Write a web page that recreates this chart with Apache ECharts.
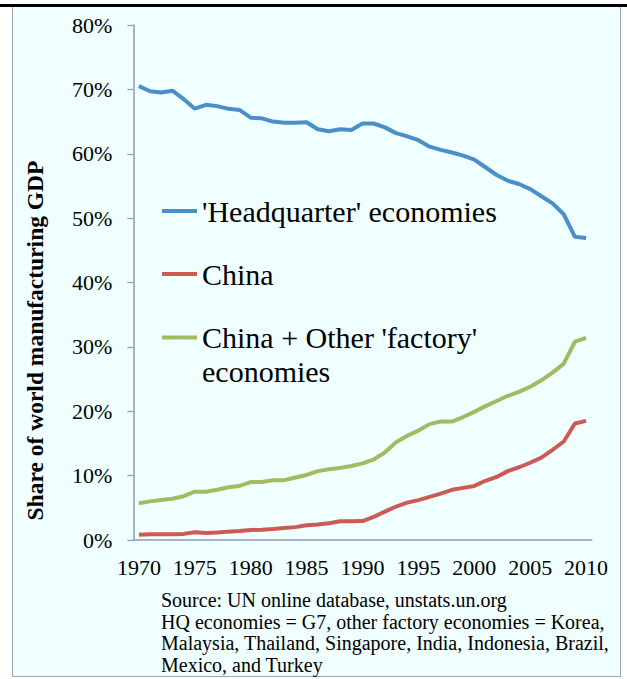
<!DOCTYPE html>
<html>
<head>
<meta charset="utf-8">
<title>Share of world manufacturing GDP</title>
<script src="https://cdn.jsdelivr.net/npm/echarts@6/dist/echarts.min.js"></script>
<style>
  html, body { margin: 0; padding: 0; background: #ffffff; }
  .topbar { position: absolute; left: 0; top: 4px; width: 627px; height: 3px; background: #000; }
  .frame {
    position: absolute; left: 12px; top: 7px; width: 607px; height: 669px;
    background: #f0ffff;
    border-left: 1.5px solid #9aa3b8; border-right: 1.5px solid #9aa3b8; border-bottom: 1.5px solid #9aa3b8;
  }
  #main { position: absolute; left: 0; top: 0; width: 627px; height: 679px; }
</style>
</head>
<body>
<div class="topbar"></div>
<div class="frame"></div>
<div id="main"></div>
<script>
// years on the x axis
const years = ['1970', '1971', '1972', '1973', '1974', '1975', '1976', '1977', '1978', '1979',
  '1980', '1981', '1982', '1983', '1984', '1985', '1986', '1987', '1988', '1989',
  '1990', '1991', '1992', '1993', '1994', '1995', '1996', '1997', '1998', '1999',
  '2000', '2001', '2002', '2003', '2004', '2005', '2006', '2007', '2008', '2009', '2010']

// share of world manufacturing GDP, %
const hqEconomies = [70.5, 69.7, 69.5, 69.8, 68.5, 67.0, 67.6, 67.4, 67.0, 66.8,
  65.6, 65.5, 65.0, 64.8, 64.8, 64.9, 63.8, 63.5, 63.8, 63.7,
  64.7, 64.7, 64.1, 63.2, 62.7, 62.1, 61.1, 60.6, 60.2, 59.7,
  59.1, 57.9, 56.7, 55.8, 55.3, 54.5, 53.4, 52.3, 50.6, 47.1, 46.9]
const china = [0.8, 0.9, 0.9, 0.9, 0.95, 1.2, 1.1, 1.15, 1.3, 1.4,
  1.55, 1.6, 1.7, 1.85, 2.0, 2.3, 2.4, 2.6, 2.9, 2.9,
  2.95, 3.6, 4.4, 5.2, 5.8, 6.2, 6.7, 7.2, 7.8, 8.1,
  8.4, 9.2, 9.8, 10.7, 11.3, 12.0, 12.8, 14.0, 15.3, 18.1, 18.5]
const factoryEconomies = [5.7, 6.0, 6.2, 6.4, 6.8, 7.5, 7.5, 7.8, 8.2, 8.4,
  9.0, 9.0, 9.3, 9.3, 9.7, 10.1, 10.7, 11.0, 11.2, 11.5,
  11.9, 12.5, 13.6, 15.2, 16.2, 17.0, 18.0, 18.4, 18.4, 19.1,
  19.9, 20.8, 21.6, 22.4, 23.0, 23.8, 24.8, 26.0, 27.4, 30.8, 31.4]

const seriesNames = ["'Headquarter' economies", 'China', "China + Other 'factory'"]
const seriesColors = ['#4a8fc8', '#cd5b53', '#a4ba5e']

const sourceLines = [
  'Source: UN online database, unstats.un.org',
  'HQ economies = G7, other factory economies = Korea,',
  'Malaysia, Thailand, Singapore, India, Indonesia, Brazil,',
  'Mexico, and Turkey'
]

const serif = "'Liberation Serif', 'Times New Roman', serif"
const axisColor = '#8d9ab4'

// svg renderer: large canvas text came out looking sans
const chart = echarts.init(document.getElementById('main'), null, { renderer: 'svg' })

// one legend per item so each can sit where the original has it
const legendTops = [196, 259, 322.5]
const legends = seriesNames.map((name, i) => ({
  data: [name],
  left: 162,
  top: legendTops[i],
  padding: 0,
  selectedMode: false,
  icon: 'rect',
  itemWidth: 35,
  itemHeight: 4,
  textStyle: {
    fontFamily: serif,
    fontSize: 30,
    color: '#000'
  }
}))

const seriesData = [hqEconomies, china, factoryEconomies]

const option = {
  animation: false,
  backgroundColor: 'transparent',
  textStyle: { fontFamily: serif },
  title: [
    {
      text: sourceLines.join('\n'),
      left: 161,
      top: 589,
      padding: 0,
      textStyle: {
        fontFamily: serif,
        fontSize: 20,
        fontWeight: 'normal',
        lineHeight: 21.7,
        color: '#000'
      }
    },
    {
      // second line of the last legend entry
      text: 'economies',
      left: 202,
      top: 356,
      padding: 0,
      textStyle: {
        fontFamily: serif,
        fontSize: 30,
        fontWeight: 'normal',
        color: '#000'
      }
    }
  ],
  legend: legends,
  grid: {
    left: 133.3,
    right: 35.3,
    top: 25,
    bottom: 139
  },
  xAxis: {
    type: 'category',
    data: years,
    boundaryGap: true,
    axisLine: { lineStyle: { color: axisColor, width: 1.5 } },
    axisTick: { interval: 0, length: 6, lineStyle: { color: axisColor, width: 1.2 } },
    axisLabel: {
      interval: 4,
      margin: 16,
      fontFamily: serif,
      fontSize: 22,
      color: '#000'
    }
  },
  yAxis: {
    type: 'value',
    min: 0,
    max: 80,
    interval: 10,
    name: 'Share of world manufacturing GDP',
    nameLocation: 'middle',
    nameRotate: 90,
    nameGap: 86,
    nameTextStyle: {
      fontFamily: serif,
      fontSize: 23.5,
      fontWeight: 'bold',
      color: '#000',
      padding: [0, 116, 0, 0] // pushes the title down, as in the original
    },
    axisLine: { show: true, lineStyle: { color: axisColor, width: 1.5 } },
    axisTick: { show: true, length: 6, lineStyle: { color: axisColor, width: 1.2 } },
    splitLine: { show: false },
    axisLabel: {
      formatter: '{value}%',
      margin: 21,
      fontFamily: serif,
      fontSize: 22,
      color: '#000'
    }
  },
  series: seriesNames.map((name, i) => ({
    name: name,
    type: 'line',
    data: seriesData[i],
    symbol: 'none',
    color: seriesColors[i],
    lineStyle: { width: 4, color: seriesColors[i] }
  }))
}

chart.setOption(option)
</script>
</body>
</html>
